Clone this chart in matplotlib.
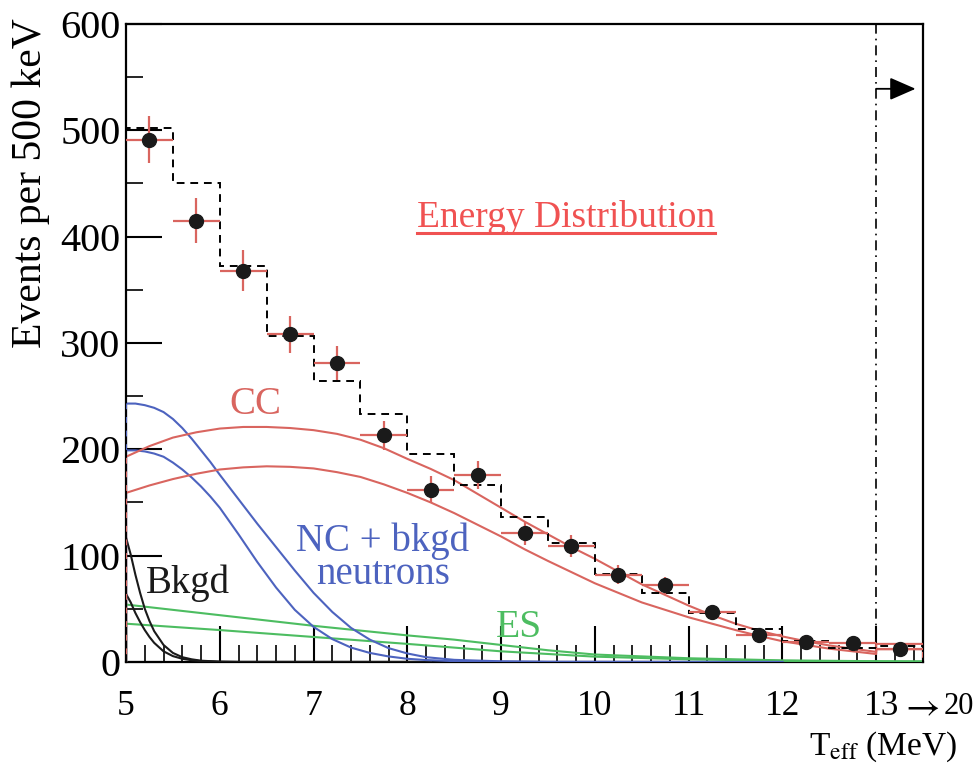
import numpy as np
import matplotlib
matplotlib.use("Agg")
import matplotlib.pyplot as plt
import matplotlib.transforms as mtrans
from matplotlib.ticker import MultipleLocator, FixedLocator, NullFormatter

plt.rcParams['font.family'] = ['Liberation Serif', 'DejaVu Serif']
plt.rcParams['mathtext.fontset'] = 'stix'

# ---------------- data ----------------
bin_edges = [5.0, 5.5, 6.0, 6.5, 7.0, 7.5, 8.0, 8.5, 9.0, 9.5, 10.0,
             10.5, 11.0, 11.5, 12.0, 12.5, 13.0, 13.5]
data_x = [5.25, 5.75, 6.25, 6.75, 7.25, 7.75, 8.25, 8.75, 9.25, 9.75,
          10.25, 10.75, 11.25, 11.75, 12.25, 12.75, 13.25]
data_y = [491, 415, 368, 308, 281, 213, 162, 176, 121, 109,
          82, 72, 47, 25, 18.5, 17.5, 12]
data_err = [22, 21, 19, 17, 16, 14, 12.5, 13, 11, 10,
            9, 8, 7, 5, 4.5, 4.5, 3.5]
mc_hist = [502, 450, 372, 307, 264, 233, 196, 166, 136, 112,
           83, 65, 46, 31, 20, 13, 15]

cc_x = [5.0, 5.25, 5.5, 5.75, 6.0, 6.25, 6.5, 6.75, 7.0, 7.25, 7.5, 7.75,
        8.0, 8.25, 8.5, 8.75, 9.0, 9.25, 9.5, 9.75, 10.0, 10.25, 10.5,
        10.75, 11.0, 11.25, 11.5, 11.75, 12.0, 12.25, 12.5, 12.75, 13.0]
cc_hi = [193, 203, 211, 216, 219.5, 221, 221, 220, 218, 214.5, 209, 201,
         191, 181.5, 171, 158, 145, 132, 120, 108, 97, 85, 73,
         63, 53, 44, 36, 29.5, 24, 19.5, 15.5, 12.5, 9.5]
cc_lo = [159, 166, 172, 177, 181, 183, 184, 183.5, 182, 178.5, 174, 167,
         159, 150, 140, 129, 118, 106, 95, 84.5, 74, 65, 56,
         49, 42, 36, 30, 24.5, 19.5, 16, 12.5, 10, 7.5]
cc_last = [17, 12]

nc_x = [5.0, 5.1, 5.2, 5.3, 5.4, 5.5, 5.6, 5.7, 5.8, 5.9, 6.0, 6.2, 6.4,
        6.6, 6.8, 7.0, 7.2, 7.4, 7.6, 7.8, 8.0, 8.2, 8.5, 9.0, 9.5, 12.0]
nc_hi = [243, 243, 241.5, 239, 235, 228.5, 220, 210, 199, 188, 176,
         153, 130, 108, 86, 65, 47, 32, 21, 13, 8, 4.5, 2, 0.6, 0.1, 0]
nc_lo = [199, 199, 198, 196, 193, 187.5, 181, 173.5, 165, 155.5, 145,
         120, 94, 70, 49, 33, 21.5, 13.5, 8.5, 5.2, 3, 1.8, 0.8, 0.2,
         0.05, 0]

es_x = [5.0, 6.0, 7.0, 8.0, 8.5, 9.0, 9.5, 10.0, 11.0, 12.0, 13.0, 13.5]
es_hi = [54, 44, 34, 25, 21, 16, 11, 7, 3.5, 1.5, 0.7, 0.5]
es_lo = [36, 30, 23.5, 17, 13.5, 10, 7.5, 5, 2.5, 1, 0.5, 0.3]

bk_x = [5.0, 5.05, 5.1, 5.15, 5.2, 5.25, 5.3, 5.4, 5.5, 5.6, 5.7, 5.8,
        6.0, 6.2, 8.25]
bk_hi = [117, 101, 82, 65, 50, 38.5, 29, 16, 8.5, 4.5, 2.5, 1.2, 0.3,
         0.05, 0]
bk_lo = [64, 56, 46, 37.5, 30, 23.5, 18, 10, 5.5, 3, 1.6, 0.8, 0.2,
         0.05, 0]

xtick_vals = [5, 6, 7, 8, 9, 10, 11, 12, 13]
xtick_labels = ['5', '6', '7', '8', '9', '10', '11', '12', '']
ytick_vals = [0, 100, 200, 300, 400, 500, 600]

# ---------------- style ----------------
c_red = '#d9655f'
c_title = '#f05252'
c_blue = '#4d63bf'
c_green = '#4dbd61'
c_black = '#1a1a1a'

fig = plt.figure(figsize=(9.77, 7.70), dpi=100)
ax = fig.add_axes([0.129, 0.1403, 0.8158, 0.8286])

ax.set_xlim(5, 13.5)
ax.set_ylim(0, 600)

lw = 1.5

def curve(x, y, color):
    ax.plot(np.r_[x[0], x], np.r_[0, y], color=color, lw=lw, zorder=3)

curve(es_x, es_hi, c_green)
curve(es_x, es_lo, c_green)
curve(bk_x, bk_hi, c_black)
curve(bk_x, bk_lo, c_black)
curve(nc_x, nc_hi, c_blue)
curve(nc_x, nc_lo, c_blue)

for yy, last in zip([cc_hi, cc_lo], cc_last):
    xs = np.r_[cc_x[0], cc_x, cc_x[-1], 13.5, 13.5]
    ys = np.r_[0, yy, last, last, 0]
    ax.plot(xs, ys, color=c_red, lw=lw, zorder=3)

# MC histogram (dashed)
ax.stairs(mc_hist, bin_edges, color='black', lw=1.4, ls=(0, (4, 3)), zorder=4)

# data
ax.errorbar(data_x, data_y, yerr=data_err, xerr=0.25, fmt='none',
            ecolor=c_red, elinewidth=1.6, capsize=0, zorder=5)
ax.plot(data_x, data_y, 'o', color=c_black, ms=10, zorder=6)

# dash-dot line at 13 and arrow
ax.axvline(13, color='black', lw=1.2, ls=(0, (6, 3, 1, 3)), zorder=2)
ax.annotate('', xy=(13.42, 539), xytext=(13.0, 539),
            arrowprops=dict(arrowstyle='-|>,head_length=1.6,head_width=0.7',
                            color='black', lw=1.3, shrinkA=0, shrinkB=0))

# ticks
ax.xaxis.set_major_locator(FixedLocator(xtick_vals))
ax.set_xticklabels(xtick_labels)
ax.xaxis.set_minor_locator(MultipleLocator(0.2))
ax.yaxis.set_major_locator(FixedLocator(ytick_vals))
ax.yaxis.set_minor_locator(MultipleLocator(50))
ax.yaxis.set_minor_formatter(NullFormatter())
ax.tick_params(axis='both', which='major', direction='in', length=26,
               width=1.5, color='black')
ax.tick_params(axis='both', which='minor', direction='in', length=12,
               width=1.2)
ax.tick_params(axis='x', which='major', pad=20, labelsize=25.5)
ax.tick_params(axis='y', which='major', pad=4, labelsize=29)
ax.tick_params(top=False, right=False, which='both')
for s in ax.spines.values():
    s.set_linewidth(1.6)

# "13 -> 20" label assembled next to the other tick labels
fig.canvas.draw()
ref_bb = ax.get_xticklabels()[0].get_window_extent()
lab_tr = mtrans.blended_transform_factory(ax.transData, mtrans.IdentityTransform())
t13 = ax.text(12.87, ref_bb.y1, '13', transform=lab_tr, ha='left', va='top',
              fontsize=25.5)
fig.canvas.draw()
b13 = t13.get_window_extent()
ymid = b13.y0 + 0.47 * (b13.y1 - b13.y0)
ident = mtrans.IdentityTransform()
tarr = ax.text(b13.x1 + 1, ymid, r'$\rightarrow$', transform=ident, ha='left',
               va='center', fontsize=27)
fig.canvas.draw()
barr = tarr.get_window_extent()
ax.text(barr.x1 + 4, ymid + 1, '20', transform=ident, ha='left', va='center',
        fontsize=22)

fig.text(0.980, 0.008, r'T$_{\rm eff}$ (MeV)', ha='right', va='bottom',
         fontsize=24)
fig.text(0.031, 0.977, 'Events per 500 keV', rotation=90, ha='center',
         va='top', fontsize=30)

# labels
t = ax.text(9.69, 418, 'Energy Distribution', color=c_title, fontsize=27,
            ha='center', va='center')
ax.text(6.38, 242, 'CC', color=c_red, fontsize=28, ha='center', va='center')
ax.text(5.66, 74, 'Bkgd', color=c_black, fontsize=28, ha='center', va='center')
ax.text(7.74, 98, 'NC + bkgd\nneutrons', color=c_blue, fontsize=28,
        ha='center', va='center', linespacing=0.85)
ax.text(9.19, 32, 'ES', color=c_green, fontsize=28.5, ha='center', va='center')

fig.canvas.draw()
bb = t.get_window_extent()
inv = ax.transData.inverted()
(x0, y0), (x1, _) = inv.transform([[bb.x0, bb.y0], [bb.x1, bb.y0]])
ax.plot([x0, x1], [y0 + 1.5, y0 + 1.5], color=c_title, lw=2.2)

fig.savefig('out.png', dpi=100)
